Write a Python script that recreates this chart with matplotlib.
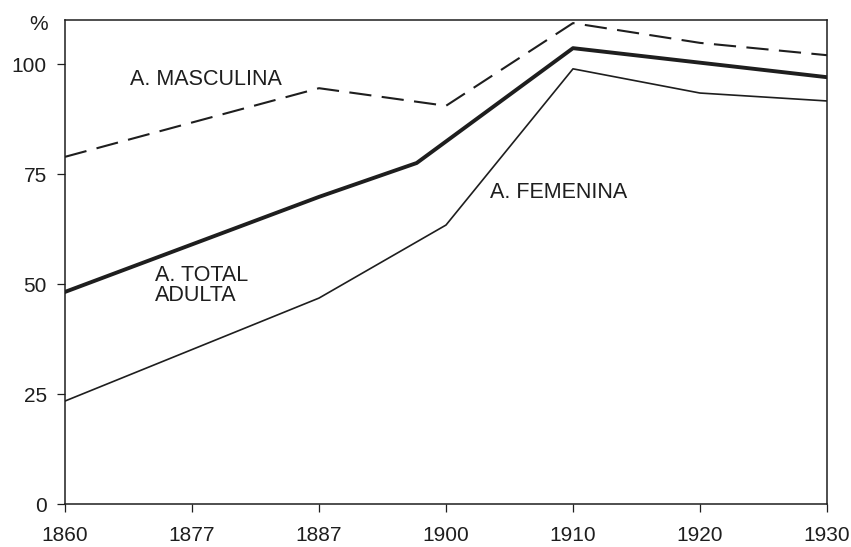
import numpy as np
import matplotlib
matplotlib.use("Agg")
import matplotlib.pyplot as plt

plt.rcParams['font.family'] = ['Liberation Sans', 'DejaVu Sans']
plt.rcParams['lines.scale_dashes'] = False

tick_years = [1860, 1877, 1887, 1900, 1910, 1920, 1930]
tick_labels = ["1860", "1877", "1887", "1900", "1910", "1920", "1930"]
y_ticks = [0, 25, 50, 75, 100]

masc_years = [1860, 1887, 1900, 1910, 1920, 1930]
masc_vals = [78.9, 94.5, 90.5, 109.3, 104.8, 102.0]

total_years = [1860, 1887, 1897, 1910, 1920, 1930]
total_vals = [48.2, 69.8, 77.5, 103.6, 100.3, 97.0]

fem_years = [1860, 1887, 1900, 1910, 1920, 1930]
fem_vals = [23.4, 46.8, 63.4, 98.9, 93.4, 91.6]

def pos(years):
    return np.interp(years, tick_years, np.arange(len(tick_years)))

ink = '#1e1e1e'
fig = plt.figure(figsize=(8.51, 5.47), dpi=100)
ax = fig.add_axes([65/851, 1-504/547, (827-65)/851, (504-20)/547])

ax.plot(pos(masc_years), masc_vals, color=ink, lw=1.5, linestyle=(0, (16, 7.5)))
ax.plot(pos(total_years), total_vals, color=ink, lw=2.8, solid_joinstyle='round')
ax.plot(pos(fem_years), fem_vals, color=ink, lw=1.2)

ax.set_xlim(0, len(tick_years) - 1)
ax.set_ylim(0, 110)
ax.set_xticks(np.arange(len(tick_years)))
ax.set_xticklabels(tick_labels)
ax.set_yticks(y_ticks)
ax.set_yticklabels([str(v) for v in y_ticks])

for s in ax.spines.values():
    s.set_linewidth(1.1)
    s.set_color(ink)
ax.tick_params(axis='both', direction='out', length=6, width=0.9, colors=ink,
               labelsize=15, labelcolor=ink)
ax.tick_params(axis='y', pad=7)
ax.tick_params(axis='x', pad=10)

fs = 15.5
ax.text(0.512, 96.4, "A. MASCULINA", fontsize=fs, color=ink, ha='left', va='center')
ax.text(3.35, 70.9, "A. FEMENINA", fontsize=fs, color=ink, ha='left', va='center')
ax.text(0.709, 49.7, "A. TOTAL\nADULTA", fontsize=fs, color=ink, ha='left', va='center',
        linespacing=0.95)
ax.text(-0.035, 109, "%", fontsize=15, color=ink, ha='center', va='center',
        transform=ax.get_yaxis_transform())

fig.savefig("out.png", dpi=100)
